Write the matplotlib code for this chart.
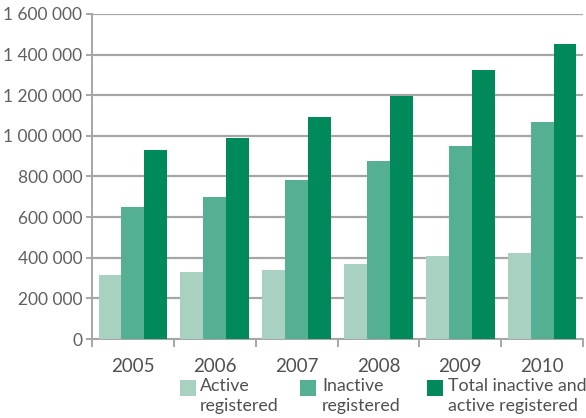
import matplotlib
matplotlib.use("Agg")
import matplotlib.pyplot as plt
from matplotlib.patches import Rectangle
import numpy as np

years = ["2005", "2006", "2007", "2008", "2009", "2010"]
active = [315000, 330000, 340000, 369000, 408000, 421000]
inactive = [650000, 700000, 785000, 876000, 951000, 1068000]
total = [932000, 989000, 1093000, 1196000, 1323000, 1454000]
series_labels = ["Active\nregistered", "Inactive\nregistered", "Total inactive and\nactive registered"]
colors = ["#a8d1c1", "#55af93", "#00895b"]
yticks = [0, 200000, 400000, 600000, 800000, 1000000, 1200000, 1400000, 1600000]

plt.rcParams['font.family'] = ['Lato', 'DejaVu Sans']

W, H = 586, 418
fig = plt.figure(figsize=(W / 100, H / 100), dpi=100)
ax = fig.add_axes([92 / W, 1 - 339 / H, (583 - 92) / W, (339 - 14) / H])

x = np.arange(len(years))
bw = 0.28
for i, (vals, c) in enumerate(zip([active, inactive, total], colors)):
    ax.bar(x + (i - 1) * bw, vals, width=bw, color=c, zorder=3, linewidth=0)

ax.set_xlim(-0.5, len(years) - 0.5)
ax.set_ylim(0, 1600000)
ax.set_yticks(yticks)
ax.set_yticklabels([f"{v:,}".replace(",", " ") for v in yticks])
ax.set_xticks(x)
ax.set_xticklabels(years)
ax.set_xticks(np.arange(-0.5, len(years)), minor=True)

gc = "#a6a6a6"
ax.grid(axis="y", color=gc, linewidth=1.6, zorder=0)
for s in ["top", "right"]:
    ax.spines[s].set_visible(False)
for s in ["left", "bottom"]:
    ax.spines[s].set_color(gc)
    ax.spines[s].set_linewidth(1.4)
ax.tick_params(axis="y", length=4, width=1.4, color=gc, pad=3, labelsize=12.5, labelcolor="#606060")
ax.tick_params(axis="x", which="major", length=0, pad=14, labelsize=13.5, labelcolor="#505050")
ax.tick_params(axis="x", which="minor", length=6, width=1.4, color=gc)

# legend drawn manually
leg_sq_x = [180, 300, 427]
leg_tx_x = [200, 322, 448]
for sx, tx, c, lab in zip(leg_sq_x, leg_tx_x, colors, series_labels):
    fig.add_artist(Rectangle((sx / W, 1 - 396 / H), 16 / W, 16 / H, transform=fig.transFigure,
                             color=c, linewidth=0))
    fig.text(tx / W, 1 - 411 / H, lab, ha="left", va="baseline", fontsize=12.8, color="#505050",
             linespacing=1.3)

fig.savefig("out.png", dpi=100)
